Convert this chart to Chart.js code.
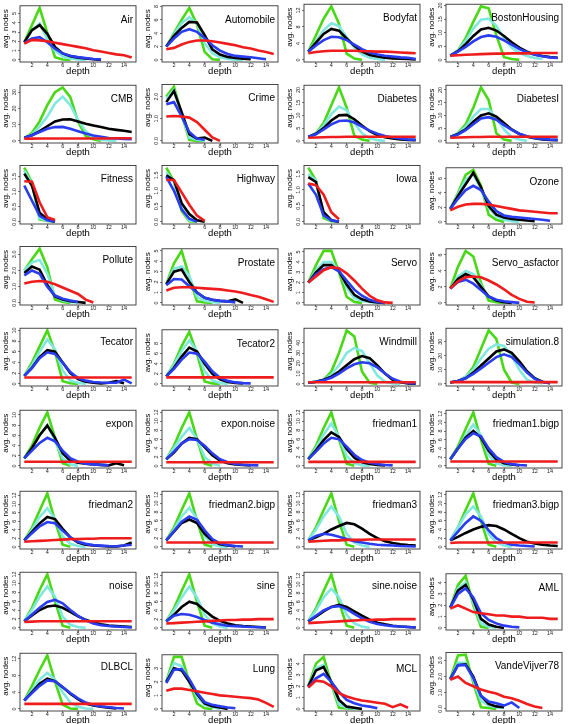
<!DOCTYPE html>
<html>
<head>
<meta charset="utf-8">
<script src="https://cdn.jsdelivr.net/npm/chart.js@4"></script>
<style>
html, body { margin: 0; padding: 0; background: #fff; overflow: hidden; }
#grid { position: relative; width: 568px; height: 724px; }
#grid canvas { position: absolute; }
</style>
</head>
<body>
<div id="grid"></div>
<script>
/* panel names, row by row */
const names = [
  "Air", "Automobile", "Bodyfat", "BostonHousing",
  "CMB", "Crime", "Diabetes", "DiabetesI",
  "Fitness", "Highway", "Iowa", "Ozone",
  "Pollute", "Prostate", "Servo", "Servo_asfactor",
  "Tecator", "Tecator2", "Windmill", "simulation.8",
  "expon", "expon.noise", "friedman1", "friedman1.bigp",
  "friedman2", "friedman2.bigp", "friedman3", "friedman3.bigp",
  "noise", "sine", "sine.noise", "AML",
  "DLBCL", "Lung", "MCL", "VandeVijver78"
];

const xTicks = [2, 4, 6, 8, 10, 12, 14];

const yTickLabels = [
  ["0","1","2","3","4","5"], ["0","2","4","6","8"], ["0","4","8","12"], ["0","5","10","15","20"],
  ["0","10","20","30"], ["0.0","1.0","2.0"], ["0","5","10","15","20"], ["0","5","10","15","20"],
  ["0.0","0.5","1.0","1.5"], ["0.0","0.5","1.0","1.5"], ["0.0","0.5","1.0","1.5"], ["0","2","4","6"],
  ["0.0","1.0","2.0","3.0"], ["0","1","2","3","4","5"], ["0","1","2","3","4","5"], ["0","2","4","6"],
  ["0","2","4","6","8","10"], ["0","2","4","6","8"], ["0","10","20","30","40"], ["0","10","20","30"],
  ["0","2","4","6","8","10"], ["0","2","4","6","8","10","12"], ["0","2","4","6","8","10","12"], ["0","2","4","6","8","10","12"],
  ["0","2","4","6","8","10","12"], ["0","2","4","6","8","10","12"], ["0","2","4","6","8","10","12"], ["0","2","4","6","8","10","12"],
  ["0","2","4","6","8","10","12"], ["0","2","4","6","8","10","12"], ["0","2","4","6","8","10","12"], ["0","1","2","3","4"],
  ["0","4","8","12"], ["0","1","2","3"], ["0","1","2","3","4"], ["0.0","1.0","2.0","3.0"]
];

/* avg. nodes by depth (1, 2, 3, ...) for each panel */
const green = [
  [1.9,3.75,5.6,2.9,0.3,0.05,0],
  [2,4,6,7.8,5.3,1.2,0.1,0],
  [2,6,10,13,8.8,1.5,0.3,0],
  [1.6,3.5,8,14,19.7,19,9,1,0.3,0],
  [1.5,5,12,22,30,33,27,12,3,1,0],
  [2,2.45,1.2,0.05,0,0],
  [1.5,3,7,14,21,13,2,0.5,0],
  [1.5,3,6.5,13,21,16,3,0.5,0],
  [1.8,1.3,0.08,0.03,0],
  [1.75,1.3,0.35,0.02,0],
  [1.7,1.3,0.12,0.02,0],
  [1.8,4,6.5,7.2,5,1,0.3,0],
  [2,2.7,3.35,2.2,0.2,0.05,0],
  [1.8,3.8,5,2.5,0.15,0.05,0],
  [2,3.7,5.1,5.1,3,0.6,0.1,0],
  [1.8,4.5,6.5,5.8,2.5,0.3,0.1,0],
  [1.5,4,7,10,6,0.5,0.1,0],
  [1.5,4,7.5,10.3,6,0.5,0.1,0],
  [1,2,4,12,30,52,46,12,1,0],
  [1,2,5,12,25,38,32,10,1,0],
  [1.5,4,7.5,10.5,5.5,0.5,0],
  [1.5,4.5,8.5,12,6,0.5,0],
  [1.5,4.5,8.5,12,6,0.5,0],
  [1.5,4.5,8.5,12.3,6,0.5,0],
  [1.5,4.5,8.5,12.5,6,0.5,0],
  [1.5,4.5,8.5,12.3,6,0.5,0],
  [1.5,4.5,8.5,12.3,6,0.5,0],
  [1.5,4.5,8.5,12.3,6,0.5,0],
  [1.5,4.5,8.5,12,6,0.5,0],
  [1.5,4.5,8.5,12.3,6,0.5,0],
  [1.5,4.5,8.5,12.3,6,0.5,0],
  [1.8,3.8,4.6,2,0.1,0],
  [2,5.5,9.3,12.8,6.5,1,0.1,0],
  [2,3.85,3.85,2,0.4,0.05,0],
  [2,4,4.6,2.2,0.1,0.05,0],
  [1.85,3.3,3.35,1.6,0.1,0.05,0]
];

const cyan = [
  [1.9,3.2,3.9,2.2,1,0.4,0.15,0.05,0],
  [2,3.8,5.5,6.4,5.5,2.5,1,0.4,0.15,0.05,0],
  [2,4.5,7.2,8.9,8.2,5.5,3,1.3,0.5,0.2,0],
  [1.6,3.5,7,11.5,14.8,15.2,12.5,8,4.5,2.5,1.4,0.7,0.3],
  [2,4,9,15,23,27.3,22,13,6,2,0.7,0.3,0],
  [1.9,2.3,1.2,0.15,0.05,0],
  [1.5,3,6,10.5,13.5,12,7,3,1,0.3,0],
  [1.5,3,5.5,9.5,12.5,12.5,9,4.5,1.5,0.5,0],
  [1.7,1.25,0.12,0.04,0],
  [1.6,1.3,0.45,0.05,0],
  [1.5,1.3,0.2,0.03,0],
  [1.8,3.8,5.8,6.6,4.5,2,0.8,0.3,0.1,0],
  [2,2.5,2.65,1.8,0.4,0.15,0.05,0],
  [1.8,3.3,3.5,2.6,0.6,0.2,0.1,0],
  [2,3.2,4,4,3.2,1.5,0.5,0.2,0.1,0],
  [1.8,3.3,4,3.6,2.2,0.8,0.3,0.1,0],
  [1.5,3.5,6,8.3,6.5,2.5,0.6,0.2,0],
  [1.5,3.8,6.5,8.6,6.5,2.5,0.7,0.2,0],
  [1,2,4,9,18,30,35,32,20,8,2,0.5,0],
  [1,2,5,10,18,25,28,27,20,10,3,1,0.3],
  [1.5,3.5,6,8,5,1.5,0.3,0],
  [1.5,4,6.5,8.5,6,2,0.5,0],
  [1.5,4,7,9.5,6.5,2.2,0.6,0.1,0],
  [1.5,4,7,9.5,7,2.5,0.6,0.1,0],
  [1.5,4,7,9,6.5,2.5,0.7,0.2,0],
  [1.5,4,7,9,6.5,2.5,0.6,0.1,0],
  [1.5,4,7,9.3,7,3,1,0.3,0],
  [1.5,4.5,7.5,9.3,7,3,1,0.3,0],
  [1.5,4,7,9.3,7,2.5,0.7,0.2,0],
  [1.5,4,7,9.5,7,3,1,0.3,0],
  [1.5,4,7,9,7,3,1,0.3,0],
  [1.8,3.5,4,2.2,0.4,0.1,0],
  [2,4.5,7,8.6,7,4,1.5,0.5,0.1,0],
  [2,3.4,3.15,2,0.9,0.3,0.15,0],
  [2,3.6,3.9,2.3,0.4,0.1,0.05,0],
  [1.85,2.85,2.85,1.8,0.5,0.2,0.1,0.05]
];

const black = [
  [1.9,3.2,3.75,2.8,1.4,0.7,0.4,0.25,0.15,0.08,0],
  [2,3.6,4.8,5.7,5.6,3.7,1.6,0.8,0.45,0.3,0.2,0.1],
  [2,4.2,6.3,7.5,7.1,5.2,3.4,2,1.2,0.8,0.5,0.35,0.3,0.25,0.1],
  [1.6,3.2,5.8,8.8,11.2,11.8,10.8,8.8,6.5,4.5,3,2,1.4,1,0.8],
  [2,3.5,6,9,12,13.2,13.3,12,10.5,9.5,8.5,7.5,6.8,6.2,5.5],
  [1.75,2.25,1.3,0.3,0.1,0.15,0],
  [1.5,2.8,5,8,10,10.2,8.5,6,3.8,2.3,1.4,0.9,0.6,0.4,0.3],
  [1.5,2.7,4.5,7.5,10,10.8,9.5,7,4.5,2.7,1.6,1,0.6,0.4,0.3],
  [1.6,1.2,0.3,0.08,0],
  [1.5,1.35,0.6,0.25,0.05,0],
  [1.4,1.25,0.3,0.05,0],
  [1.8,3.6,5.2,6.8,4.8,2.2,1,0.6,0.4,0.3,0.2,0.1],
  [1.85,2.25,2.05,1.1,0.4,0.2,0.1,0.05,0],
  [1.8,3,3.2,2,1,0.5,0.3,0.2,0.15,0.35,0],
  [2,3,3.7,3.7,3.1,1.8,0.8,0.35,0.15,0.05,0],
  [1.8,3,3.6,3.2,2,0.8,0.3,0.1,0],
  [1.5,3,5,6.3,6,4,2,0.9,0.4,0.2,0.1,0.2,0.5,0.1],
  [1.5,3.2,5.4,7.2,6.4,4,2,0.9,0.4,0.2,0.1],
  [1,2,4,7,12,18,24,27,25,18,10,4,1.5,0.5,0.2],
  [1,2,4,8,13,18,23,24.5,22,16,9,4,1.5,0.5],
  [1.5,3.5,6,7.9,5.5,2.5,1,0.6,0.4,0.3,0.2,0.1,0.5,0.1],
  [1.5,3,5,6.3,6,4.2,2.4,1.2,0.6,0.3,0.2,0.1],
  [1.5,3.5,5.8,7.5,6.5,3.8,1.8,0.8,0.4,0.2,0.1],
  [1.5,4,6.5,8,6.5,3.5,1.5,0.6,0.3,0.1],
  [1.5,3.5,5.5,7,6.5,4.2,2.2,1,0.5,0.3,0.2,0.1,0.1,0.3,1],
  [1.5,3.5,5.5,6.3,5.5,3,1.4,0.6,0.3,0.1],
  [1.5,2.2,3,4,4.8,5.5,5.2,4.2,3,2,1.3,0.9,0.6,0.4,0.3],
  [1.5,2.3,3.2,4,4.6,5,4.8,4,3,2,1.2,0.8,0.5,0.3,0.2],
  [1.5,2.8,4,4.8,5,4.5,3.6,2.6,1.8,1.2,0.8,0.5,0.4,0.3,0.2],
  [1.5,3,4.8,6,5.5,4,2.6,1.6,1,0.6,0.4,0.3,0.2,0.1],
  [1.5,2.6,3.8,4.8,5.3,4.8,3.8,2.8,1.9,1.2,0.8,0.5,0.3,0.2,0.1],
  [1.8,3.3,3.8,2.5,0.8,0.3,0.1,0],
  [2,4,6,7.2,6.6,5.2,3.6,2.3,1.3,0.8,0.5,0.3,0.1],
  [2,3,2.85,2,1.1,0.4,0.2,0.1,0],
  [2,3.4,3.7,2.4,0.8,0.2,0.1,0],
  [1.85,2.7,2.75,2,0.8,0.3,0.15,0.1]
];

const blue = [
  [1.8,2.3,2.45,1.9,1.2,0.7,0.45,0.3,0.2,0.1,0.05],
  [2,3.2,4.2,4.6,4.2,3.3,2.2,1.4,0.9,0.6,0.5,0.4,0.25,0.1],
  [2,3.5,4.8,5.6,5.5,4.8,3.7,2.6,1.8,1.3,1,0.8,0.6,0.5,0.2],
  [1.6,3,4.8,6.8,8.4,9,8.5,7.2,5.6,4,2.8,1.9,1.3,0.9,0.7],
  [2,3.5,5.5,7.5,8.5,8.6,7.5,6,4.5,3.3,2.5,1.8,1.5,1.2,1],
  [1.65,1.75,1.1,0.4,0.1,0.05],
  [1.5,2.6,4.5,6.5,7.8,8,7.2,5.6,4,2.8,1.9,1.3,0.9,0.6,0.4],
  [1.5,2.5,4.2,6.5,8.8,9.3,8.3,6.2,4.3,2.8,1.8,1.1,0.7,0.5,0.4],
  [1.2,0.7,0.2,0.05,0],
  [1.45,1,0.4,0.1,0],
  [1.2,0.85,0.2,0.05,0],
  [1.8,3.2,4.4,5,4.4,2.8,1.5,0.9,0.7,0.6,0.5,0.4,0.3,0.15],
  [1.7,2,1.8,1,0.45,0.25,0.15,0.05],
  [1.7,2.3,2.25,1.6,1,0.5,0.3,0.2,0.15,0.05],
  [2,2.8,3.3,3.5,3.1,2.2,1.3,0.7,0.3,0.1,0],
  [1.8,2.6,2.9,2.4,1.6,0.8,0.4,0.2,0.1,0],
  [1.5,3,4.8,5.9,5.6,4,2.2,1.1,0.6,0.35,0.25,0.2,0.2,0.8,0.1],
  [1.5,3,4.8,6.2,6,4.4,2.5,1.2,0.6,0.3,0.15,0.1],
  [1,2,3.5,6,10,15,19,21,20,16,10,5,2,0.8,0.3],
  [1,2,4,7,11,15,19,21,19,14,8,3.5,1.3,0.4],
  [1.5,3,4.5,5.5,4.8,3,1.5,0.8,0.4,0.3,0.2,0.1],
  [1.5,3.2,5,6,5.8,4.5,2.8,1.5,0.8,0.4,0.25,0.15,0.1],
  [1.5,3.2,5,6.3,6,4.3,2.5,1.3,0.7,0.4,0.2,0.1],
  [1.5,4,6.2,7.5,6.8,4,2,0.9,0.4,0.2,0.1],
  [1.5,3.2,4.8,5.8,5.5,3.8,2.2,1.2,0.7,0.4,0.3,0.2,0.15,0.3,0.5],
  [1.5,3.6,5.8,7,6.2,3.8,1.8,0.8,0.4,0.2,0.1],
  [1.5,2.5,3,2.8,2.3,1.8,1.3,1,0.7,0.5,0.4,0.3,0.2,0.15,0.1],
  [1.5,3.5,5.5,7,6,3.8,2,1,0.5,0.3,0.2,0.1],
  [1.5,3,4.5,5.8,6.3,5.5,4,2.7,1.7,1,0.6,0.4,0.3,0.2,0.1],
  [1.5,2.8,3.2,3,2.5,1.8,1.2,0.8,0.5,0.4,0.3,0.2,0.15,0.1],
  [1.5,2.8,4,4.8,5,4.3,3.2,2.2,1.4,0.9,0.6,0.4,0.3,0.2,0.1],
  [1.8,3,3.5,2.7,1.3,0.7,0.4,0.2,0.1,0.05],
  [2,3.8,5.5,6.8,6.6,5.2,3.8,2.5,1.5,0.9,0.6,0.4,0.2,0.1],
  [1.9,2.9,2.95,2.2,1.2,0.5,0.3,0.2,0.1,0.05],
  [1.9,2.7,3.1,2.4,1.5,0.8,0.5,0.3,0.2,0.05],
  [1.8,2.7,2.7,1.9,0.8,0.45,0.35,0.2,0.4,0.05]
];

const red = [
  [1.75,2.15,2.1,2,1.85,1.7,1.55,1.4,1.25,1.05,0.9,0.75,0.6,0.5,0.25],
  [1.6,1.8,2.3,2.7,2.9,2.9,2.8,2.6,2.4,2.2,1.9,1.7,1.4,1.2,0.9],
  [1.6,1.9,2.1,2.2,2.2,2.2,2.2,2.1,2.1,2,2,1.9,1.8,1.7,1.6],
  [1.5,1.7,1.9,2,2.1,2.2,2.3,2.3,2.4,2.4,2.4,2.5,2.5,2.5,2.5],
  [1.3,1.4,1.5,1.5,1.5,1.5,1.5,1.5,1.5,1.5,1.5,1.5,1.6,1.6,1.6],
  [1.1,1.12,1.1,1.05,0.85,0.5,0.15,0],
  [1.2,1.3,1.4,1.5,1.5,1.6,1.6,1.6,1.6,1.6,1.6,1.6,1.6,1.6,1.6],
  [1.2,1.3,1.4,1.5,1.5,1.6,1.6,1.6,1.6,1.6,1.6,1.6,1.6,1.6,1.6],
  [1.35,1.33,0.65,0.15,0.06],
  [1.35,1.35,0.95,0.55,0.2,0.03],
  [1.2,1.15,0.85,0.3,0.08],
  [1.6,2.1,2.4,2.5,2.5,2.4,2.2,2,1.8,1.6,1.5,1.4,1.3,1.2,1.2],
  [1.2,1.3,1.35,1.3,1.15,0.95,0.75,0.55,0.2,0.02],
  [1.2,1.45,1.5,1.5,1.45,1.4,1.35,1.3,1.2,1.1,0.95,0.75,0.6,0.35,0.1],
  [2,2.6,3.2,3.5,3.4,2.9,2.2,1.4,0.7,0.25,0.05,0],
  [1.8,2.7,3.2,3.3,3.2,2.8,2.3,1.7,1,0.5,0.15,0.05],
  [1.2,1.2,1.2,1.2,1.2,1.2,1.2,1.2,1.2,1.2,1.2,1.2,1.2,1.2,1.2],
  [1.3,1.3,1.3,1.3,1.3,1.3,1.3,1.3,1.3,1.3,1.3,1.3,1.3,1.3,1.3],
  [1.5,1.5,1.5,1.5,1.5,1.5,1.5,1.5,1.5,1.5,1.5,1.5,1.5,1.5,1.5],
  [1.2,1.2,1.2,1.2,1.2,1.2,1.2,1.2,1.2,1.2,1.2,1.2,1.2,1.2,1.2],
  [0.8,0.8,0.8,0.8,0.8,0.8,0.8,0.8,0.8,0.8,0.8,0.8,0.8,0.8,0.8],
  [0.8,0.8,0.8,0.8,0.8,0.8,0.8,0.8,0.8,0.8,0.8,0.8,0.8,0.8,0.8],
  [0.9,0.9,0.9,0.9,0.9,0.9,0.9,0.9,0.9,0.9,0.9,0.9,0.9,0.9,0.9],
  [1,1,1,1,1,1,1,1,1,1,1,1,1,1,1],
  [1.2,1.3,1.4,1.5,1.6,1.7,1.8,1.8,1.9,1.9,2,2,2,2,2],
  [1,1,1,1,1,1,1,1,1,1,1,1,1,1,1],
  [1.2,1.3,1.4,1.5,1.5,1.6,1.6,1.6,1.7,1.7,1.7,1.7,1.7,1.7,1.7],
  [0.9,1,1,1,1,1,1,1,1,1,1,1,1,1,1],
  [1.3,1.4,1.5,1.5,1.5,1.5,1.5,1.5,1.5,1.5,1.5,1.5,1.5,1.5,1.5],
  [1,1.1,1.2,1.3,1.4,1.5,1.6,1.7,1.8,1.8,1.9,1.9,2,2,2],
  [1.1,1.2,1.3,1.4,1.5,1.6,1.7,1.8,1.8,1.9,1.9,2,2,2,2],
  [1.7,2,1.7,1.4,1.3,1.2,1.1,1.1,1,1,0.9,0.9,0.9,0.8,0.8],
  [1.2,1.2,1.2,1.2,1.2,1.2,1.2,1.2,1.2,1.2,1.2,1.2,1.2,1.2,1.2],
  [1.35,1.5,1.5,1.4,1.3,1.2,1.1,1,0.95,0.9,0.85,0.8,0.7,0.45,0.15],
  [1.9,2.5,2.4,2,1.4,1.1,0.9,0.75,0.65,0.55,0.45,0.15,0.4,0.1],
  [1.8,2,1.6,1.4,1.2,1.05,0.95,0.75,0.65,0.5,0.3,0.15,0.05]
];

const FONT = "'Liberation Sans', Arial, sans-serif";
Chart.defaults.font.family = FONT;
Chart.defaults.color = "#111";

const colW = 142, rowH = 81;

// box round the plot, y label and the dataset name in the top right corner
const panelDecor = {
  id: "panelDecor",
  afterDatasetsDraw(chart, args, opts) {
    const { ctx, chartArea: a } = chart;
    ctx.save();
    ctx.strokeStyle = "#333";
    ctx.lineWidth = 0.9;
    ctx.strokeRect(a.left, a.top, a.right - a.left, a.bottom - a.top);
    ctx.fillStyle = "#000";
    ctx.font = "10px " + FONT;
    ctx.textAlign = "right";
    ctx.textBaseline = "alphabetic";
    ctx.fillText(opts.name, a.right - 3, a.top + 17);
    // y title sits a bit above the middle of the box, as in the original
    ctx.translate(5.5, a.top + 23);
    ctx.rotate(-Math.PI / 2);
    ctx.font = "8px " + FONT;
    ctx.textAlign = "center";
    ctx.textBaseline = "middle";
    ctx.fillText("avg. nodes", 0, 0);
    ctx.restore();
  }
};

const meas = document.createElement("canvas").getContext("2d");
meas.font = "5.5px " + FONT;

function series(arr, color) {
  return {
    data: arr.map((v, i) => ({ x: i + 1, y: v })),
    borderColor: color,
    borderWidth: 2.6,
    pointRadius: 0,
    tension: 0,
    fill: false
  };
}

const grid = document.getElementById("grid");

names.forEach((name, p) => {
  const cv = document.createElement("canvas");
  cv.width = colW;
  cv.height = rowH;
  cv.style.left = (p % 4) * colW + "px";
  cv.style.top = Math.round(Math.floor(p / 4) * 81.1) + "px";
  grid.appendChild(cv);

  const labels = yTickLabels[p];
  const top = Math.max(...green[p], ...cyan[p], ...black[p], ...blue[p], ...red[p]);
  const widest = Math.max(...labels.map(t => meas.measureText(t).width));

  new Chart(cv, {
    type: "line",
    data: {
      datasets: [
        series(red[p], "#ee1c1c"),
        series(blue[p], "#2a3cf0"),
        series(black[p], "#000000"),
        series(cyan[p], "#80e8e0"),
        series(green[p], "#48d816")
      ]
    },
    plugins: [panelDecor],
    options: {
      responsive: false,
      animation: false,
      events: [],
      layout: { padding: { top: 1, right: 6, left: 0, bottom: 0 } },
      plugins: {
        legend: { display: false },
        tooltip: { enabled: false },
        panelDecor: { name }
      },
      scales: {
        x: {
          type: "linear",
          min: 0.44,
          max: 15.56,
          afterBuildTicks: s => { s.ticks = xTicks.map(v => ({ value: v })); },
          afterFit: s => { s.height = 19; },
          grid: { drawOnChartArea: false, tickLength: 1.5, color: "#222", lineWidth: 0.6 },
          border: { display: false },
          ticks: { autoSkip: false, maxRotation: 0, padding: -1.5, font: { size: 5.5 }, color: "#222" },
          title: { display: true, text: "depth", font: { size: 9.5 }, color: "#000", padding: { top: 0, bottom: 4.4 } }
        },
        y: {
          type: "linear",
          min: -0.04 * top,
          max: 1.04 * top,
          afterBuildTicks: s => { s.ticks = labels.map(t => ({ value: parseFloat(t) })); },
          afterFit: s => { s.width = 20; },
          grid: { drawOnChartArea: false, tickLength: 2, color: "#222", lineWidth: 0.6 },
          border: { display: false },
          ticks: {
            autoSkip: false, minRotation: 90, maxRotation: 90, crossAlign: "center",
            padding: 4 - widest / 2, font: { size: 5.5 }, color: "#222",
            callback: (v, i) => labels[i]
          },
          title: { display: false }
        }
      }
    }
  });
});
</script>
</body>
</html>
